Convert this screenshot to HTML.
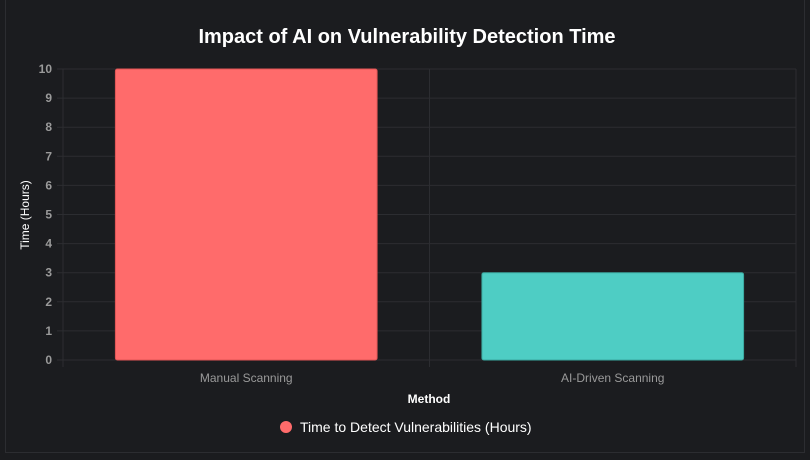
<!DOCTYPE html>
<html><head><meta charset="utf-8"><style>
html,body{margin:0;padding:0;background:#1b1c1f;width:810px;height:460px;overflow:hidden;font-family:"Liberation Sans",sans-serif}
.frame{position:absolute;left:5px;top:-2px;width:800px;height:455px;border:1px solid #2c2d31;box-sizing:border-box}
</style></head><body>
<div class="frame"></div>
<svg id="c" width="810" height="460" style="position:absolute;left:0;top:0">
<text x="407" y="43" text-anchor="middle" fill="#ffffff" font-size="20" font-weight="bold">Impact of AI on Vulnerability Detection Time</text>
<text transform="translate(29,215) rotate(-90)" text-anchor="middle" fill="#ffffff" font-size="12">Time (Hours)</text>
<text x="429" y="403" text-anchor="middle" fill="#ffffff" font-size="12" font-weight="bold">Method</text>
<g>
<circle cx="286" cy="427" r="6" fill="#ff6b6b"/>
<text x="300" y="432" fill="#ffffff" font-size="14">Time to Detect Vulnerabilities (Hours)</text>
</g>
<g id="grid"></g><g id="bars"></g><g id="labels"></g>
</svg>
<script>
const categories=["Manual Scanning","AI-Driven Scanning"];
const values=[10,3];
const yTicks=[0,1,2,3,4,5,6,7,8,9,10];
const colors=["#ff6b6b","#4ecdc4"];
const borders=["#e05555","#3aa89f"];
const L=63,R=796,T=69,B=360,yMax=10;
const ns="http://www.w3.org/2000/svg";
function y(v){return B-(v/yMax)*(B-T);}
const bw=(R-L)/categories.length;
function x(i){return L+bw*i;}
function mk(t,a,p){const e=document.createElementNS(ns,t);for(const k in a)e.setAttribute(k,a[k]);p.appendChild(e);return e;}
const g=document.getElementById('grid'),bg=document.getElementById('bars'),lg=document.getElementById('labels');
yTicks.forEach(v=>{
 const l=mk('line',{x1:57,x2:R,y1:y(v),y2:y(v),stroke:'#2c2d31','stroke-width':1},g);
 
 
 const t=mk('text',{x:52,y:y(v)+4,'text-anchor':'end',fill:'#9a9a9a','font-size':12,'font-weight':'bold'},lg);
 t.textContent=v;
 
 
});
for(let i=0;i<=categories.length;i++){
 const l=mk('line',{x1:x(i),x2:x(i),y1:T,y2:367,stroke:'#2c2d31','stroke-width':1},g);
 
 
}
categories.forEach((c,i)=>{
 const w=bw*0.714,bx=x(i)+(bw-w)/2;
 const r=mk('rect',{x:bx,y:y(values[i]),width:w,height:y(0)-y(values[i]),fill:colors[i],stroke:borders[i],'stroke-width':1,rx:2},bg);
 
 
 const t=mk('text',{x:x(i)+bw/2,y:382,'text-anchor':'middle',fill:'#9a9a9a','font-size':12},lg);
 t.textContent=c;
 
 
});
</script>
</body></html>
